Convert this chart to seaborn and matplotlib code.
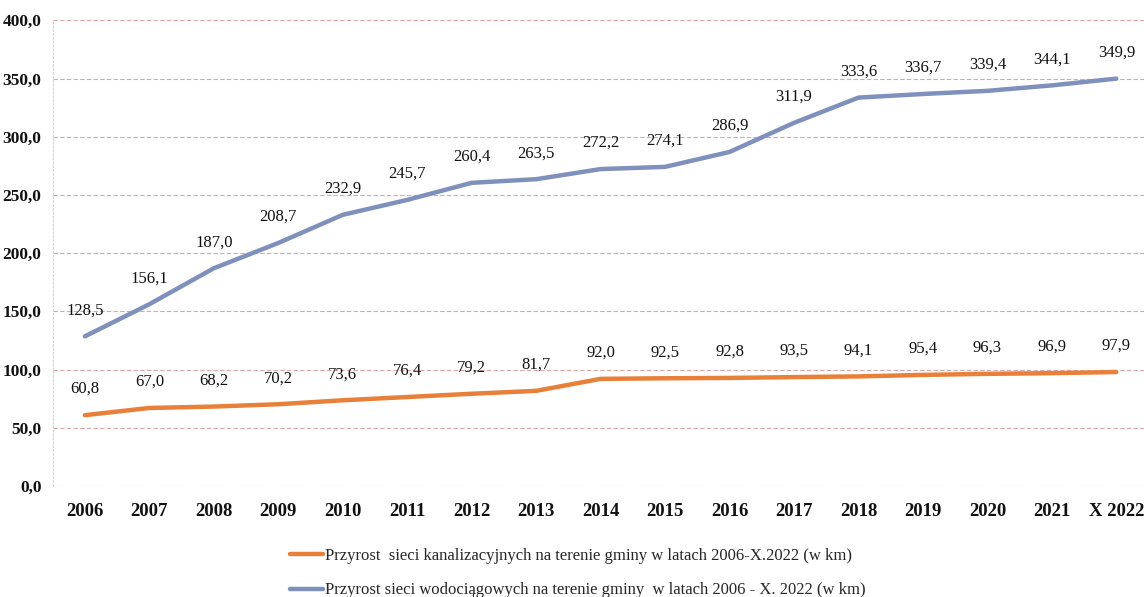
import matplotlib
matplotlib.use("Agg")
import matplotlib.pyplot as plt
import seaborn as sns
import pandas as pd
import numpy as np

years = ["2006", "2007", "2008", "2009", "2010", "2011", "2012", "2013", "2014",
         "2015", "2016", "2017", "2018", "2019", "2020", "2021", "X 2022"]
kanalizacja = [60.8, 67.0, 68.2, 70.2, 73.6, 76.4, 79.2, 81.7, 92.0,
               92.5, 92.8, 93.5, 94.1, 95.4, 96.3, 96.9, 97.9]
wodociagi = [128.5, 156.1, 187.0, 208.7, 232.9, 245.7, 260.4, 263.5, 272.2,
             274.1, 286.9, 311.9, 333.6, 336.7, 339.4, 344.1, 349.9]
series_names = ["Przyrost  sieci kanalizacyjnych na terenie gminy w latach 2006-X.2022 (w km)",
                "Przyrost sieci wodociągowych na terenie gminy  w latach 2006 - X. 2022 (w km)"]
colors = ["#E8803A", "#8090BC"]

sns.set_theme(style="white")
plt.rcParams['font.family'] = ['Liberation Serif', 'DejaVu Serif']

df = pd.DataFrame({
    "x": list(range(len(years))) * 2,
    "value": kanalizacja + wodociagi,
    "series": [series_names[0]] * len(years) + [series_names[1]] * len(years),
})

fig = plt.figure(figsize=(11.44, 5.97), dpi=100)
ax = fig.add_axes([0.046, 0.186, 0.958, 0.780])

sns.lineplot(data=df, x="x", y="value", hue="series", palette=colors,
             linewidth=3.2, ax=ax, legend=False)

for vals in (kanalizacja, wodociagi):
    for i, v in enumerate(vals):
        ax.annotate(f"{v:.1f}".replace(".", ","), (i, v), xytext=(0, 13),
                    textcoords="offset points", ha="center", va="bottom",
                    fontsize=12, color="#111111")

ax.set_xlim(-0.5, 16.5)
ax.set_ylim(0, 400)
ax.set_yticks(np.arange(0, 401, 50))
ax.set_yticklabels([f"{t:.1f}".replace(".", ",") for t in np.arange(0, 401, 50)],
                   fontsize=12.5, fontweight="bold", color="#111111")
ax.set_xticks(range(len(years)))
ax.set_xticklabels(years, fontsize=13.5, fontweight="bold", color="#111111")
ax.tick_params(axis="x", pad=12, length=0)
ax.tick_params(axis="y", pad=8, length=0)
ax.set_xlabel("")
ax.set_ylabel("")
ax.yaxis.grid(True, color="#d9a8a8", linestyle=(0, (4, 2)), linewidth=0.8)
for s in ["top", "right", "bottom"]:
    ax.spines[s].set_visible(False)
ax.spines["left"].set_color("#e0c8c8")
ax.spines["left"].set_linestyle((0, (2, 2)))
ax.spines["left"].set_linewidth(0.7)

handles = [plt.Line2D([], [], color=c, linewidth=3.2) for c in colors]
fig.legend(handles, series_names, loc="upper left",
           bbox_to_anchor=(280 / 1144, 1 - 538 / 597), frameon=False,
           fontsize=12, handlelength=2.0, handletextpad=0.1, labelspacing=1.1,
           borderaxespad=0.2)

fig.savefig("out.png", dpi=100)
